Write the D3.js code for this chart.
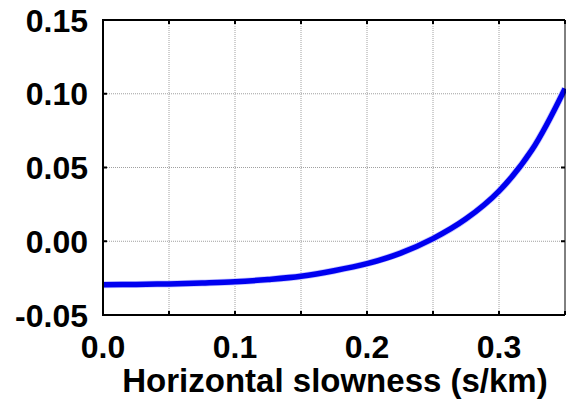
<!DOCTYPE html>
<html lang="en">
<head>
  <meta charset="UTF-8">
  <title>Horizontal slowness</title>
  <script src="https://d3js.org/d3.v7.min.js"></script>
  <style>
    body { margin: 0; background: #fff; }
    svg text {
      font-family: "Liberation Sans", Arial, sans-serif;
      font-weight: bold;
      fill: #000;
    }
  </style>
</head>
<body>
  <script>
    // slowness (s/km) and value
    var slowness = [0, 0.025, 0.05, 0.075, 0.1, 0.125, 0.15, 0.175, 0.2, 0.225, 0.25, 0.275, 0.3, 0.325, 0.35];
    var values = [-0.0295, -0.0293, -0.0289, -0.0283, -0.0275, -0.0259, -0.0237, -0.0200, -0.0152, -0.0082, 0.0018, 0.0152, 0.0340, 0.0620, 0.1035];
    var xTickLabels = [0.0, 0.1, 0.2, 0.3];
    var yTickLabels = [-0.05, 0.00, 0.05, 0.10, 0.15];
    var gridX = [0.05, 0.10, 0.15, 0.20, 0.25, 0.30];
    var gridY = [0.00, 0.05, 0.10];

    var width = 566, height = 402;
    // plot box edges (note: "top" is reserved on window, so use pTop etc.)
    var pLeft = 103, pRight = 565, pTop = 20, pBottom = 315;

    var svg = d3.select("body").append("svg")
      .attr("width", width)
      .attr("height", height);

    var x = d3.scaleLinear().domain([0, 0.35]).range([pLeft, pRight]);
    var y = d3.scaleLinear().domain([-0.05, 0.15]).range([pBottom, pTop]);

    // dotted grid
    svg.append("g").selectAll("line").data(gridX).enter().append("line")
      .attr("x1", function(d) { return x(d); }).attr("x2", function(d) { return x(d); })
      .attr("y1", pTop).attr("y2", pBottom)
      .attr("stroke", "#a0a0a0").attr("stroke-width", 1).attr("stroke-dasharray", "1,1");
    svg.append("g").selectAll("line").data(gridY).enter().append("line")
      .attr("y1", function(d) { return y(d); }).attr("y2", function(d) { return y(d); })
      .attr("x1", pLeft).attr("x2", pRight)
      .attr("stroke", "#a0a0a0").attr("stroke-width", 1).attr("stroke-dasharray", "1,1");

    // inward ticks on all four sides
    var tickVals = [0, 0.05, 0.10, 0.15, 0.20, 0.25, 0.30, 0.35];
    var yTicks = [-0.05, 0, 0.05, 0.10, 0.15];
    var ticks = svg.append("g").attr("stroke", "#000").attr("stroke-width", 2);
    tickVals.forEach(function(d) {
      ticks.append("line").attr("x1", x(d)).attr("x2", x(d)).attr("y1", pBottom).attr("y2", pBottom - 4);
      ticks.append("line").attr("x1", x(d)).attr("x2", x(d)).attr("y1", pTop).attr("y2", pTop + 4);
    });
    yTicks.forEach(function(d) {
      ticks.append("line").attr("y1", y(d)).attr("y2", y(d)).attr("x1", pLeft).attr("x2", pLeft + 4);
      ticks.append("line").attr("y1", y(d)).attr("y2", y(d)).attr("x1", pRight).attr("x2", pRight - 4);
    });

    // curve
    var line = d3.line()
      .x(function(d, i) { return x(slowness[i]); })
      .y(function(d) { return y(d); })
      .curve(d3.curveCatmullRom);

    svg.append("path").datum(values)
      .attr("d", line)
      .attr("fill", "none")
      .attr("stroke", "#c8c8ff")
      .attr("stroke-width", 7);
    svg.append("path").datum(values)
      .attr("d", line)
      .attr("fill", "none")
      .attr("stroke", "#0000f0")
      .attr("stroke-width", 5.5);

    // frame
    svg.append("path")
      .attr("d", "M" + pRight + "," + pTop + "H" + pLeft + "V" + pBottom + "H" + pRight)
      .attr("fill", "none").attr("stroke", "#000").attr("stroke-width", 2);
    svg.append("line")
      .attr("x1", pRight).attr("x2", pRight).attr("y1", pTop).attr("y2", pBottom)
      .attr("stroke", "#000").attr("stroke-width", 1);

    // tick labels (plain hyphen for the minus, like the original)
    svg.append("g").selectAll("text").data(yTickLabels).enter().append("text")
      .attr("x", 88)
      .attr("y", function(d) { return y(d); })
      .attr("dy", "0.36em")
      .attr("text-anchor", "end")
      .style("font-size", "32px")
      .text(function(d) { return d3.format(".2f")(d).replace("\u2212", "-"); });

    svg.append("g").selectAll("text").data(xTickLabels).enter().append("text")
      .attr("x", function(d) { return x(d); })
      .attr("y", 358)
      .attr("text-anchor", "middle")
      .style("font-size", "32px")
      .text(function(d) { return d3.format(".1f")(d); });

    svg.append("text")
      .attr("x", (pLeft + pRight) / 2 + 1)
      .attr("y", 392)
      .attr("text-anchor", "middle")
      .style("font-size", "33px")
      .text("Horizontal slowness (s/km)");
  </script>
</body>
</html>
